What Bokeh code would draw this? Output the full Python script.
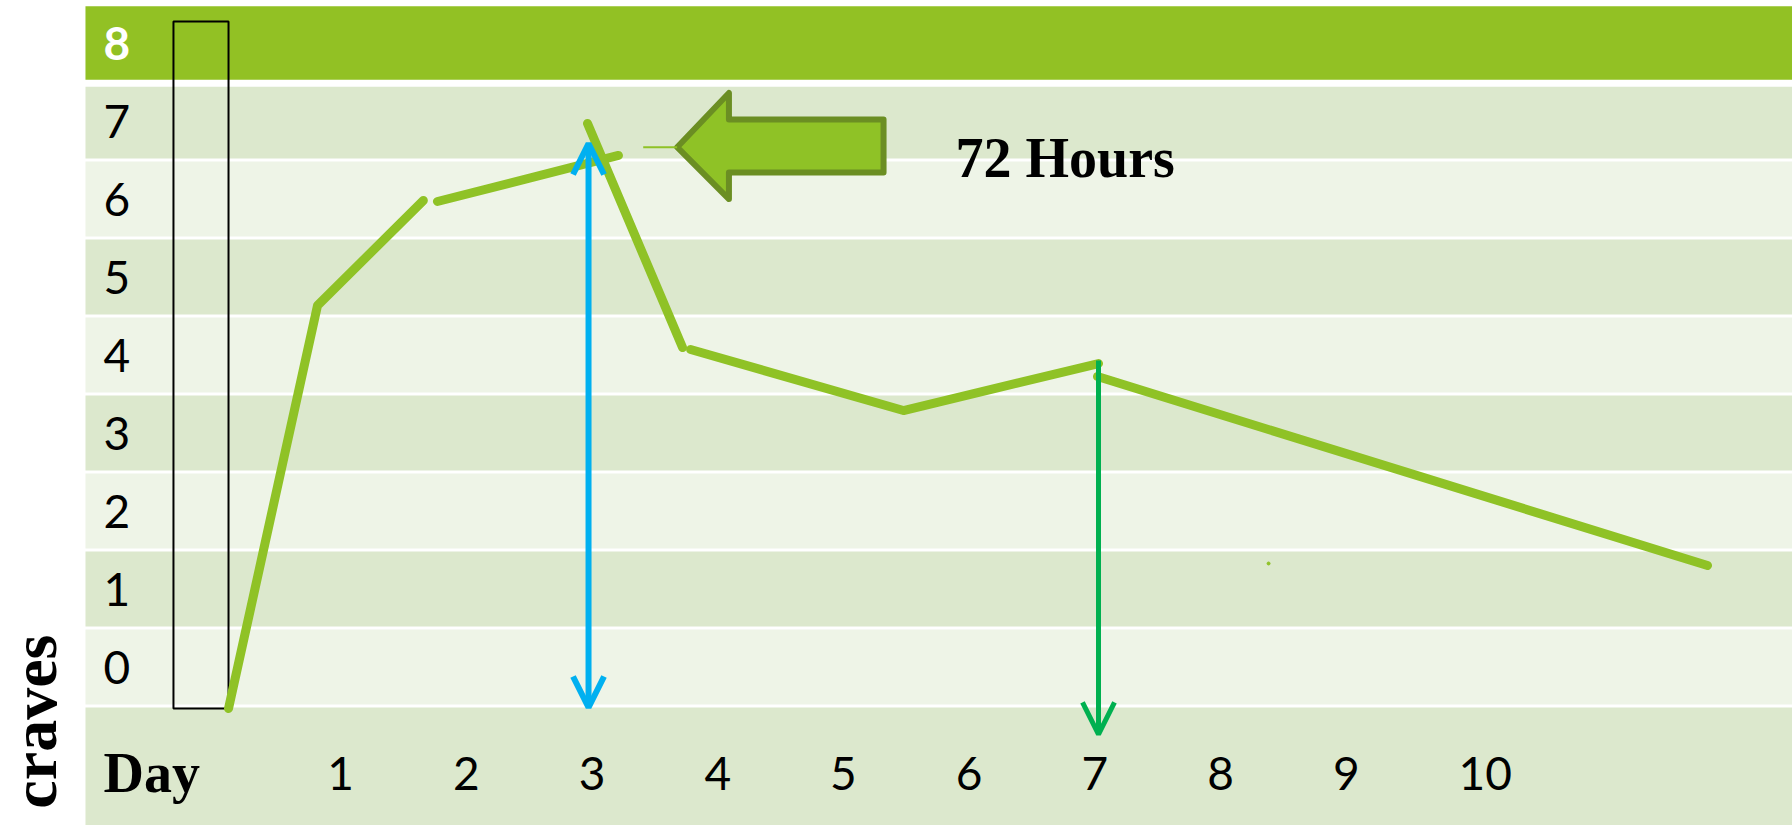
import math
from bokeh.plotting import figure
from bokeh.models import Range1d, Arrow, OpenHead
from bokeh.core.properties import value
from bokeh.embed import file_html
from bokeh.resources import INLINE

# ---- chart values -------------------------------------------------------
row_levels = [0, 1, 2, 3, 4, 5, 6, 7]          # table rows (craving level)
header_level = 8                                # header row
day_ticks = [1, 2, 3, 4, 5, 6, 7, 8, 9, 10]
day_labels = ["1", "2", "3", "4", "5", "6", "7", "8", "9", "10"]
x_title = "Day"
y_title = "craves"
callout_text = "72 Hours"

# hand-drawn craving curve, drawn as separate strokes (day, level)
segment_days = [[0.114, 0.822, 1.664],
                [1.776, 3.216],
                [2.970, 3.726],
                [3.790, 5.483, 7.035],
                [7.027, 11.880]]
segment_levels = [[-0.532, 4.635, 5.981],
                  [5.968, 6.558],
                  [6.968, 4.096],
                  [4.071, 3.288, 3.891],
                  [3.724, 1.301]]

peak_day = 2.978          # blue double arrow (72 h peak)
peak_from, peak_to = -0.519, 6.712
week_day = 7.035          # green down arrow
week_from, week_to = 3.929, -0.865
box_days = [-0.324, 0.114]       # black outlined box around day 0
box_levels = [-0.532, 8.276]
dot_day, dot_level = [8.388], [1.327]

# ---- styling ------------------------------------------------------------
HEADER = "#92C124"
DARK = "#DCE8CD"
LIGHT = "#EEF4E7"
LINE = "#8FC226"
OLIVE = "#6B8E23"
BLUE = "#00B0F0"
GREEN = "#00B050"
SERIF = value("Liberation Serif")
SANS = value("Lato")

p = figure(width=1792, height=825,
           x_range=Range1d(-1.700, 12.556), y_range=Range1d(-2.032, 8.545),
           output_backend="svg", toolbar_location=None,
           x_axis_type=None, y_axis_type=None, min_border=0)
p.outline_line_color = None
p.background_fill_color = "white"
p.border_fill_color = "white"
p.grid.grid_line_color = None

table_left, table_right = -1.024, 13.0

# row bands
tops = [k + 0.48 if k < 7 else k + 0.44 for k in row_levels]
bottoms = [k - 0.48 for k in row_levels]
colors = [DARK if k % 2 else LIGHT for k in row_levels]
p.quad(left=table_left, right=table_right, top=tops, bottom=bottoms,
       fill_color=colors, line_color=None)
# header row
p.quad(left=[table_left], right=[table_right], top=[header_level + 0.47],
       bottom=[header_level - 0.47], fill_color=HEADER, line_color=None)
# day row
p.quad(left=[table_left], right=[table_right], top=[-0.52], bottom=[-2.5],
       fill_color=DARK, line_color=None)

# row labels
p.text(x=[-0.88] * len(row_levels), y=row_levels,
       text=[str(k) for k in row_levels],
       text_font=SANS, text_font_size="46px", text_color="black",
       text_align="left", text_baseline="middle")
p.text(x=[-0.88], y=[header_level], text=[str(header_level)],
       text_font=SANS, text_font_size="46px", text_font_style="bold",
       text_color="white", text_align="left", text_baseline="middle")

# day labels
p.text(x=day_ticks, y=[-1.36] * len(day_ticks), text=day_labels,
       x_offset=-12.6, text_font=SANS, text_font_size="46px",
       text_color="black", text_align="left", text_baseline="middle")
p.text(x=[-0.88], y=[-1.36], text=[x_title], text_font=SERIF,
       text_font_size="56px", text_font_style="bold", text_color="black",
       text_align="left", text_baseline="middle")

# y title
p.text(x=[-1.43], y=[-0.70], text=[y_title], angle=math.pi / 2,
       text_font=SERIF, text_font_size="64px", text_font_style="bold",
       text_color="black", text_align="center", text_baseline="middle")

# black box
p.quad(left=[box_days[0]], right=[box_days[1]], top=[box_levels[1]],
       bottom=[box_levels[0]], fill_color=None, line_color="black",
       line_width=2)

# craving curve
p.multi_line(xs=segment_days, ys=segment_levels, line_color=LINE,
             line_width=9, line_cap="round", line_join="round")
p.scatter(x=dot_day, y=dot_level, size=3, color=LINE)

# blue double arrow
p.add_layout(Arrow(x_start=peak_day, y_start=peak_from, x_end=peak_day,
                   y_end=peak_to, line_color=BLUE, line_width=6,
                   start=OpenHead(size=31, line_color=BLUE, line_width=6),
                   end=OpenHead(size=31, line_color=BLUE, line_width=6)))
# green down arrow
p.add_layout(Arrow(x_start=week_day, y_start=week_from, x_end=week_day,
                   y_end=week_to, line_color=GREEN, line_width=5,
                   start=None,
                   end=OpenHead(size=32, line_color=GREEN, line_width=5)))

# big block arrow pointing left at the peak
tip_x, tip_y = 3.683, 6.664
head_x, head_top, head_bot = 4.095, 7.359, 5.999
shaft_top, shaft_bot, shaft_end = 7.019, 6.340, 5.325
p.patch(x=[tip_x, head_x, head_x, shaft_end, shaft_end, head_x, head_x],
        y=[tip_y, head_top, shaft_top, shaft_top, shaft_bot, shaft_bot, head_bot],
        fill_color=LINE, line_color=OLIVE, line_width=6, line_join="round")
p.line(x=[3.413, tip_x], y=[tip_y, tip_y], line_color=LINE, line_width=2)

p.text(x=[5.897], y=[6.52], text=[callout_text], text_font=SERIF,
       text_font_size="56px", text_font_style="bold", text_color="black",
       text_align="left", text_baseline="middle")

open("out.html", "w").write(file_html(p, INLINE))
